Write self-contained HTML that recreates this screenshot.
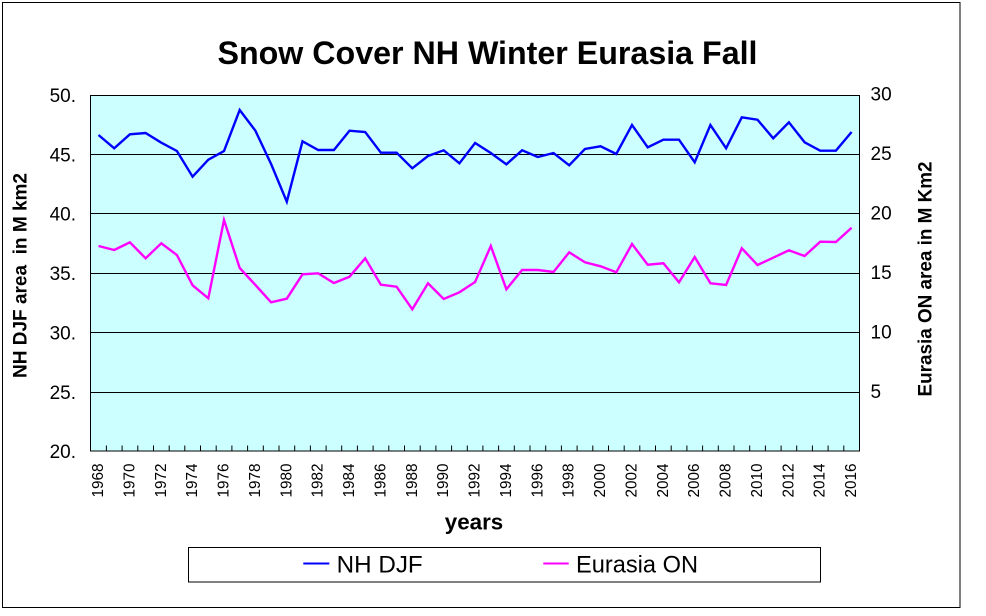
<!DOCTYPE html>
<html>
<head>
<meta charset="utf-8">
<style>
html, body { margin: 0; padding: 0; background: #ffffff; }
svg { display: block; }
text { font-family: "Liberation Sans", Arial, sans-serif; fill: #000; }
</style>
</head>
<body>
<svg width="986" height="616" viewBox="0 0 986 616" xmlns="http://www.w3.org/2000/svg">
<rect x="0" y="0" width="986" height="616" fill="#ffffff"/>
<rect x="2.5" y="2.5" width="957.5" height="605" fill="none" stroke="#000" stroke-width="1"/>
<text x="487.5" y="64" font-size="32" font-weight="bold" text-anchor="middle" textLength="540" lengthAdjust="spacingAndGlyphs">Snow Cover NH Winter Eurasia Fall</text>
<rect x="90.5" y="95.5" width="769" height="355.5" fill="#CCFFFF"/>
<path d="M90.5 154.5H859.5M90.5 213.5H859.5M90.5 273.5H859.5M90.5 332.5H859.5M90.5 392.5H859.5" stroke="#000" stroke-width="1" fill="none"/>
<rect x="90.5" y="95.5" width="769" height="355.5" fill="none" stroke="#000" stroke-width="1"/>
<path stroke="#000" stroke-width="1" fill="none" d="M106.4 445.5V451M122.1 445.5V451M137.8 445.5V451M153.5 445.5V451M169.2 445.5V451M184.8 445.5V451M200.5 445.5V451M216.2 445.5V451M231.9 445.5V451M247.6 445.5V451M263.3 445.5V451M279 445.5V451M294.7 445.5V451M310.4 445.5V451M326.1 445.5V451M341.7 445.5V451M357.4 445.5V451M373.1 445.5V451M388.8 445.5V451M404.5 445.5V451M420.2 445.5V451M435.9 445.5V451M451.6 445.5V451M467.3 445.5V451M482.9 445.5V451M498.6 445.5V451M514.3 445.5V451M530 445.5V451M545.7 445.5V451M561.4 445.5V451M577.1 445.5V451M592.8 445.5V451M608.5 445.5V451M624.2 445.5V451M639.8 445.5V451M655.5 445.5V451M671.2 445.5V451M686.9 445.5V451M702.6 445.5V451M718.3 445.5V451M734 445.5V451M749.7 445.5V451M765.4 445.5V451M781.1 445.5V451M796.7 445.5V451M812.4 445.5V451M828.1 445.5V451M843.8 445.5V451"/>
<polyline fill="none" stroke="#0000FF" stroke-width="2.4" points="98.5,135 114.2,148.3 129.9,134.3 145.6,133 161.3,142.7 176.9,151 192.6,176.7 208.3,159.7 224,151 239.7,110 255.4,130.7 271.1,164 286.8,201.7 302.5,141.3 318.2,150 333.9,150 349.5,130.7 365.2,132 380.9,152.7 396.6,152.7 412.3,168.3 428,156 443.7,150.3 459.4,163.3 475.1,143 490.8,153 506.4,164.3 522.1,150.3 537.8,157 553.5,153 569.2,165.3 584.9,149 600.6,146.3 616.3,154 632,125 647.7,147.3 663.4,139.7 679,139.7 694.7,162.3 710.4,125 726.1,148.3 741.8,117.3 757.5,119.7 773.2,138.3 788.9,122.3 804.6,142.3 820.2,150.7 835.9,150.7 851.6,132"/>
<polyline fill="none" stroke="#FF00FF" stroke-width="2.4" points="98.5,246 114.2,250 129.9,242.3 145.6,258.3 161.3,243.3 176.9,255 192.6,285.3 208.3,298.3 224,220 239.7,268 255.4,285 271.1,302.3 286.8,298.7 302.5,274.3 318.2,273.3 333.9,283 349.5,276.7 365.2,258.3 380.9,284.7 396.6,286.7 412.3,309.3 428,283.3 443.7,299 459.4,292.3 475.1,282 490.8,246 506.4,289.3 522.1,270 537.8,270 553.5,272 569.2,252.3 584.9,262.3 600.6,266.3 616.3,272.3 632,244 647.7,264.7 663.4,263.3 679,282.3 694.7,257 710.4,283.3 726.1,285 741.8,248.3 757.5,265 773.2,257.7 788.9,250.3 804.6,256 820.2,241.7 835.9,242 851.6,227.7"/>
<g font-size="19" text-anchor="end">
<text x="76" y="102">50.</text>
<text x="76" y="161.5">45.</text>
<text x="76" y="220.5">40.</text>
<text x="76" y="280">35.</text>
<text x="76" y="339.5">30.</text>
<text x="76" y="399">25.</text>
<text x="76" y="458">20.</text>
</g>
<g font-size="19">
<text x="870.5" y="100.5">30</text>
<text x="870.5" y="160">25</text>
<text x="870.5" y="219.5">20</text>
<text x="870.5" y="279">15</text>
<text x="870.5" y="338.5">10</text>
<text x="870.5" y="398">5</text>
</g>
<text transform="translate(26.7,275.5) rotate(-90)" font-size="19" font-weight="bold" text-anchor="middle" textLength="205" lengthAdjust="spacingAndGlyphs" xml:space="preserve">NH DJF area  in M km2</text>
<text transform="translate(931.7,279) rotate(-90)" font-size="19" font-weight="bold" text-anchor="middle" textLength="235" lengthAdjust="spacingAndGlyphs">Eurasia ON area in M Km2</text>
<g font-size="16" text-anchor="end">
<text transform="translate(103,463.5) rotate(-90)" textLength="34" lengthAdjust="spacingAndGlyphs">1968</text>
<text transform="translate(134.4,463.5) rotate(-90)" textLength="34" lengthAdjust="spacingAndGlyphs">1970</text>
<text transform="translate(165.8,463.5) rotate(-90)" textLength="34" lengthAdjust="spacingAndGlyphs">1972</text>
<text transform="translate(197.1,463.5) rotate(-90)" textLength="34" lengthAdjust="spacingAndGlyphs">1974</text>
<text transform="translate(228.5,463.5) rotate(-90)" textLength="34" lengthAdjust="spacingAndGlyphs">1976</text>
<text transform="translate(259.9,463.5) rotate(-90)" textLength="34" lengthAdjust="spacingAndGlyphs">1978</text>
<text transform="translate(291.3,463.5) rotate(-90)" textLength="34" lengthAdjust="spacingAndGlyphs">1980</text>
<text transform="translate(322.7,463.5) rotate(-90)" textLength="34" lengthAdjust="spacingAndGlyphs">1982</text>
<text transform="translate(354,463.5) rotate(-90)" textLength="34" lengthAdjust="spacingAndGlyphs">1984</text>
<text transform="translate(385.4,463.5) rotate(-90)" textLength="34" lengthAdjust="spacingAndGlyphs">1986</text>
<text transform="translate(416.8,463.5) rotate(-90)" textLength="34" lengthAdjust="spacingAndGlyphs">1988</text>
<text transform="translate(448.2,463.5) rotate(-90)" textLength="34" lengthAdjust="spacingAndGlyphs">1990</text>
<text transform="translate(479.6,463.5) rotate(-90)" textLength="34" lengthAdjust="spacingAndGlyphs">1992</text>
<text transform="translate(510.9,463.5) rotate(-90)" textLength="34" lengthAdjust="spacingAndGlyphs">1994</text>
<text transform="translate(542.3,463.5) rotate(-90)" textLength="34" lengthAdjust="spacingAndGlyphs">1996</text>
<text transform="translate(573.7,463.5) rotate(-90)" textLength="34" lengthAdjust="spacingAndGlyphs">1998</text>
<text transform="translate(605.1,463.5) rotate(-90)" textLength="34" lengthAdjust="spacingAndGlyphs">2000</text>
<text transform="translate(636.5,463.5) rotate(-90)" textLength="34" lengthAdjust="spacingAndGlyphs">2002</text>
<text transform="translate(667.9,463.5) rotate(-90)" textLength="34" lengthAdjust="spacingAndGlyphs">2004</text>
<text transform="translate(699.2,463.5) rotate(-90)" textLength="34" lengthAdjust="spacingAndGlyphs">2006</text>
<text transform="translate(730.6,463.5) rotate(-90)" textLength="34" lengthAdjust="spacingAndGlyphs">2008</text>
<text transform="translate(762,463.5) rotate(-90)" textLength="34" lengthAdjust="spacingAndGlyphs">2010</text>
<text transform="translate(793.4,463.5) rotate(-90)" textLength="34" lengthAdjust="spacingAndGlyphs">2012</text>
<text transform="translate(824.7,463.5) rotate(-90)" textLength="34" lengthAdjust="spacingAndGlyphs">2014</text>
<text transform="translate(856.1,463.5) rotate(-90)" textLength="34" lengthAdjust="spacingAndGlyphs">2016</text>
</g>
<text x="474" y="529.3" font-size="22.5" font-weight="bold" text-anchor="middle" textLength="58.5" lengthAdjust="spacingAndGlyphs">years</text>
<rect x="188.5" y="547.5" width="632" height="34.5" fill="#ffffff" stroke="#000" stroke-width="1"/>
<line x1="303.3" y1="563.5" x2="329.3" y2="563.5" stroke="#0000FF" stroke-width="2"/>
<text x="336.7" y="572.7" font-size="24" textLength="86" lengthAdjust="spacingAndGlyphs">NH DJF</text>
<line x1="543.3" y1="563.5" x2="568.7" y2="563.5" stroke="#FF00FF" stroke-width="2"/>
<text x="576" y="572.7" font-size="24" textLength="122" lengthAdjust="spacingAndGlyphs">Eurasia ON</text>
</svg>
</body>
</html>
